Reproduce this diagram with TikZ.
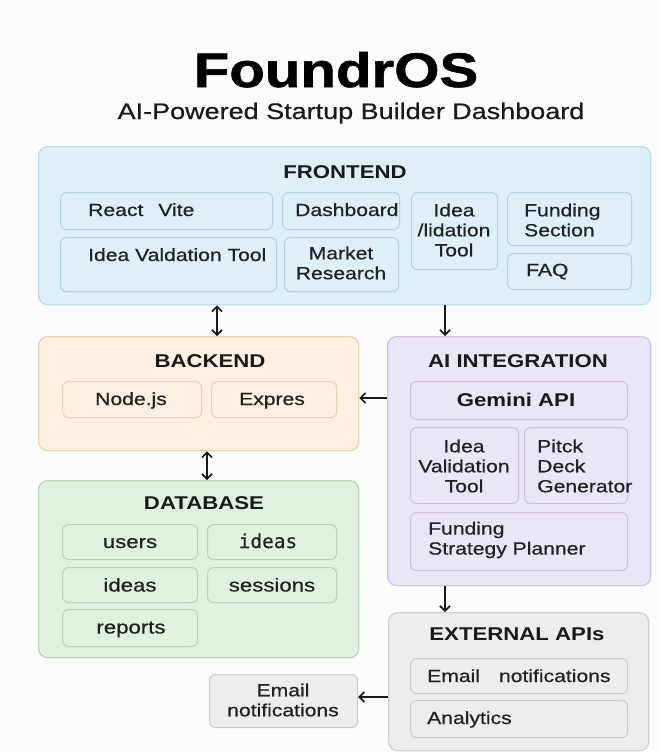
\documentclass[tikz,border=0pt]{standalone}
\usepackage{fontspec}
\setmainfont{Liberation Sans}[FakeStretch=1.2]
\newfontfamily\medfont{Liberation Sans}[FakeStretch=1.2, FakeBold=0.6]
\newfontfamily\heavyfont{Liberation Sans Bold}[FakeStretch=1.2, FakeBold=1.2]
\newfontfamily\dbmono{DejaVu Sans Mono}[FakeBold=0.4]
\usetikzlibrary{arrows.meta}
\definecolor{bgc}{HTML}{FCFCFC}
\definecolor{txtc}{HTML}{222222}
\definecolor{ttlc}{HTML}{1A1A1A}
\definecolor{feF}{HTML}{DDEFF8}\definecolor{feD}{HTML}{BCDDEE}\definecolor{feI}{HTML}{B6D4E4}
\definecolor{beF}{HTML}{FDF0E0}\definecolor{beD}{HTML}{F0D4AE}\definecolor{beI}{HTML}{EBD2B2}
\definecolor{aiF}{HTML}{EBE6F6}\definecolor{aiD}{HTML}{D0C7E8}\definecolor{aiI}{HTML}{CCC4E2}
\definecolor{dbF}{HTML}{E1F1DF}\definecolor{dbD}{HTML}{B6DBB3}\definecolor{dbI}{HTML}{B8D7B5}
\definecolor{exF}{HTML}{EDEDED}\definecolor{exD}{HTML}{D2D2D2}\definecolor{exI}{HTML}{CDCDCD}
\begin{document}
\begin{tikzpicture}[x=1pt,y=-1pt,
  outerbox/.style={draw, line width=1.3pt, rounded corners=9pt, anchor=north west, inner sep=0pt},
  innerbox/.style={draw, line width=1.1pt, rounded corners=6pt, anchor=north west, inner sep=0pt},
  txt/.style={font=\medfont\fontsize{17.6}{20}\selectfont, text=txtc, inner sep=0pt, align=center},
  dbtxt/.style={font=\medfont\fontsize{18.5}{21}\selectfont, text=txtc, inner sep=0pt},
  ttl/.style={font=\bfseries\fontsize{18.5}{22}\selectfont, text=ttlc, inner sep=0pt},
  arr/.style={line width=1.7pt, draw=ttlc, -{Straight Barb[length=5pt,width=10pt]}},
  darr/.style={line width=1.7pt, draw=ttlc, {Straight Barb[length=5pt,width=10pt]}-{Straight Barb[length=5pt,width=10pt]}}
]
\fill[bgc] (0,0) rectangle (662,752);
\useasboundingbox (0,0) rectangle (662,752);

% Title
\node[font=\heavyfont\fontsize{48.5}{55}\selectfont, text=black, inner sep=0pt, anchor=base] (title) at (336,87) {FoundrOS};
\node[font=\medfont\fontsize{22.5}{26}\selectfont, text=ttlc, inner sep=0pt, anchor=base] (subtitle) at (351,119) {AI-Powered Startup Builder Dashboard};

% FRONTEND
\node[outerbox, fill=feF, draw=feD, minimum width=612pt, minimum height=158pt] (fe) at (38,146) {};
\node[ttl, anchor=base] (feT) at (345,178.6) {FRONTEND};
\node[innerbox, fill=feF, draw=feI, minimum width=212pt, minimum height=37pt] (rv) at (60,192) {};
\node[txt, anchor=base west] (rvT) at (88,216) {React\hspace{15pt}Vite};
\node[innerbox, fill=feF, draw=feI, minimum width=216pt, minimum height=54pt] (ivt) at (60,237) {};
\node[txt, anchor=base west] (ivtT) at (88,261) {Idea Valdation Tool};
\node[innerbox, fill=feF, draw=feI, minimum width=117pt, minimum height=37pt] (dash) at (282,192) {};
\node[txt, anchor=base west] (dashT) at (295,216) {Dashboard};
\node[innerbox, fill=feF, draw=feI, minimum width=114pt, minimum height=54pt] (mr) at (284,237) {};
\node[txt] (mrT) at (341,263) {Market\\Research};
\node[innerbox, fill=feF, draw=feI, minimum width=86pt, minimum height=77pt] (ivt2) at (411,192) {};
\node[txt] (ivt2T) at (454,230) {Idea\\/lidation\\Tool};
\node[innerbox, fill=feF, draw=feI, minimum width=124pt, minimum height=53pt] (fs) at (507,192) {};
\node[txt, align=left, anchor=west] (fsT) at (524,220) {Funding\\Section};
\node[innerbox, fill=feF, draw=feI, minimum width=124pt, minimum height=36pt] (faq) at (507,253) {};
\node[txt, anchor=base west] (faqT) at (526,276) {FAQ};

% BACKEND
\node[outerbox, fill=beF, draw=beD, minimum width=320pt, minimum height=114pt] (be) at (38,336) {};
\node[ttl, anchor=base] (beT) at (210,367.6) {BACKEND};
\node[innerbox, fill=beF, draw=beI, minimum width=139pt, minimum height=36pt] (nodejs) at (62,381) {};
\node[txt, anchor=base] (nodejsT) at (131,405) {Node.js};
\node[innerbox, fill=beF, draw=beI, minimum width=125pt, minimum height=36pt] (expres) at (211,381) {};
\node[txt, anchor=base] (expresT) at (272,405) {Expres};

% AI INTEGRATION
\node[outerbox, fill=aiF, draw=aiD, minimum width=263pt, minimum height=249pt] (ai) at (387,336) {};
\node[ttl, anchor=base] (aiT) at (518,367.6) {AI INTEGRATION};
\node[innerbox, fill=aiF, draw=aiI, minimum width=217pt, minimum height=38pt] (gem) at (410,381) {};
\node[ttl, anchor=base] (gemT) at (516,406.6) {Gemini API};
\node[innerbox, fill=aiF, draw=aiI, minimum width=108pt, minimum height=76pt] (ivt3) at (410,427) {};
\node[txt] (ivt3T) at (464,466) {Idea\\Validation\\Tool};
\node[innerbox, fill=aiF, draw=aiI, minimum width=103pt, minimum height=76pt] (pdg) at (524,427) {};
\node[txt, align=left, anchor=west] (pdgT) at (537,466) {Pitck\\Deck\\Generator};
\node[innerbox, fill=aiF, draw=aiI, minimum width=217pt, minimum height=58pt] (fsp) at (410,512) {};
\node[txt, align=left, anchor=west] (fspT) at (428,540) {Funding\\Strategy Planner};

% DATABASE
\node[outerbox, fill=dbF, draw=dbD, minimum width=320pt, minimum height=177pt] (db) at (38,480) {};
\node[ttl, anchor=base] (dbT) at (204,509.6) {DATABASE};
\node[innerbox, fill=dbF, draw=dbI, minimum width=135pt, minimum height=35pt] (users) at (62,524) {};
\node[dbtxt, anchor=base] (usersT) at (130,548) {users};
\node[innerbox, fill=dbF, draw=dbI, minimum width=129pt, minimum height=35pt] (ideasm) at (207,524) {};
\node[dbtxt, font=\dbmono\fontsize{19.4}{22}\selectfont, anchor=base] (ideasmT) at (268,548) {ideas};
\node[innerbox, fill=dbF, draw=dbI, minimum width=135pt, minimum height=35pt] (ideas) at (62,567) {};
\node[dbtxt, anchor=base] (ideasT) at (130,591.5) {ideas};
\node[innerbox, fill=dbF, draw=dbI, minimum width=129pt, minimum height=35pt] (sess) at (207,567) {};
\node[dbtxt, anchor=base] (sessT) at (272,591.5) {sessions};
\node[innerbox, fill=dbF, draw=dbI, minimum width=135pt, minimum height=37pt] (reports) at (62,609) {};
\node[dbtxt, anchor=base] (reportsT) at (131,633.5) {reports};

% EXTERNAL APIs
\node[outerbox, fill=exF, draw=exD, minimum width=260pt, minimum height=138pt] (ext) at (388,612) {};
\node[ttl, anchor=base] (extT) at (517,640.6) {EXTERNAL APIs};
\node[innerbox, fill=exF, draw=exI, minimum width=217pt, minimum height=35pt] (en) at (410,658) {};
\node[txt, anchor=base west] (enT) at (427,682) {Email\hspace{19pt}notifications};
\node[innerbox, fill=exF, draw=exI, minimum width=217pt, minimum height=37pt] (an) at (410,700) {};
\node[txt, anchor=base west] (anT) at (427,724) {Analytics};

% standalone email box
\node[innerbox, fill=exF, draw=exI, minimum width=148pt, minimum height=53pt] (mail) at (209,674) {};
\node[txt] (mailT) at (283,700) {Email\\notifications};

% connectors
\coordinate (c1) at (217,0);
\coordinate (c2) at (445,0);
\coordinate (c3) at (207,0);
\coordinate (c4) at (0,398);
\coordinate (c5) at (0,697);
\draw[darr] (fe.south -| c1) -- (be.north -| c1);
\draw[arr] (fe.south -| c2) -- (ai.north -| c2);
\draw[arr] (ai.west |- c4) -- (be.east |- c4);
\draw[darr] (be.south -| c3) -- (db.north -| c3);
\draw[arr] (ai.south -| c2) -- (ext.north -| c2);
\draw[arr] (ext.west |- c5) -- (mail.east |- c5);
\end{tikzpicture}
\end{document}
